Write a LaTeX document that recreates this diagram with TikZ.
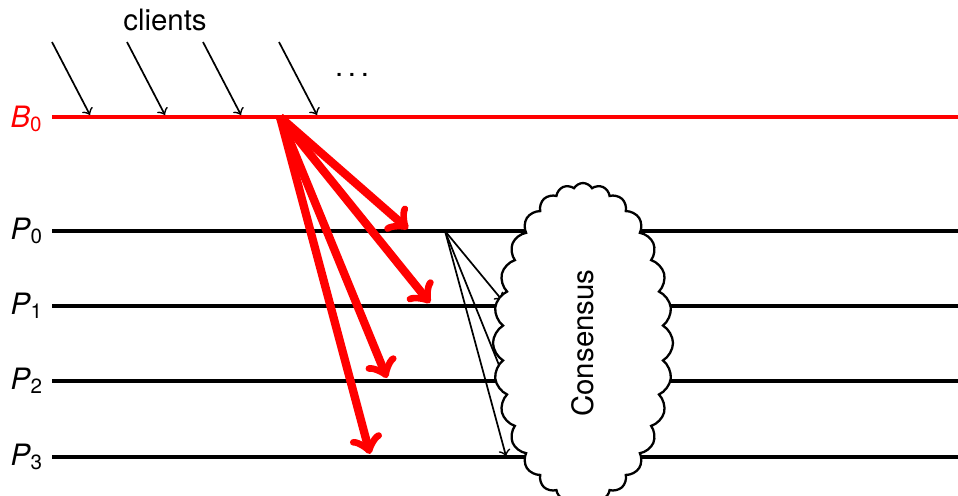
\documentclass[tikz,border=0pt]{standalone}
\usepackage{fontspec}
\setmainfont{TeX Gyre Heros}
\usepackage{tikz}
\usetikzlibrary{shapes.symbols}

\begin{document}
\begin{tikzpicture}[
  x=0.35pt, y=-0.35pt,
  procline/.style={line width=1.25pt},
  reqarrow/.style={->, line width=0.6pt},
  bcast/.style={->, red, line width=2.9pt},
  every node/.style={font=\fontsize{10.3}{12}\selectfont}
]
\useasboundingbox (0,0) rectangle (958,495);

% ---- broadcast line B_0 ----
\coordinate (b0L) at (52,117);
\coordinate (b0R) at (958,117);
\draw[procline, red] (b0L) -- (b0R);
\node[red, anchor=base west, inner sep=0pt] (lblB) at (10,127) {\textit{B}\textsubscript{0}};

% ---- process lines P_0 .. P_3 ----
\foreach \i/\y in {0/231,1/306,2/381,3/457} {
  \coordinate (p\i L) at (52,\y);
  \coordinate (p\i R) at (958,\y);
  \draw[procline] (p\i L) -- (p\i R);
  \node[anchor=base west, inner sep=0pt] (lblP\i) at (10,\y+8) {\textit{P}\textsubscript{\i}};
}

% ---- client requests ----
\node (clients) at (165,20) {clients};
\foreach \i/\x in {1/52,2/127,3/203,4/279} {
  \coordinate (cl\i) at (\x,42);
  \coordinate (in\i) at (\x+38,115);
  \draw[reqarrow] (cl\i) -- (in\i);
}
\node (more) at (352,75) {.\hspace{0.16em}.\hspace{0.16em}.};

% ---- broadcast to processes ----
\coordinate (src) at (280,117);
\foreach \i/\tx/\ty in {0/408/229, 1/430/303, 2/387/378, 3/370/454} {
  \coordinate (rt\i) at (\tx,\ty);
  \draw[bcast] (src) -- (rt\i);
}

% ---- P_0 forwards ----
\coordinate (fwd) at (445,231);
\foreach \i/\tx/\ty in {1/502/300, 2/505/380, 3/506/456} {
  \coordinate (fh\i) at (\tx,\ty);
  \draw[reqarrow] (fwd) -- (fh\i);
}

% ---- consensus cloud ----
\node[cloud, draw, fill=white, line width=0.8pt, cloud puffs=28, cloud puff arc=120,
      cloud ignores aspect, minimum width=63pt, minimum height=112pt, inner sep=0pt]
  (cons) at (583,343) {\rotatebox{90}{Consensus}};
\end{tikzpicture}
\end{document}
